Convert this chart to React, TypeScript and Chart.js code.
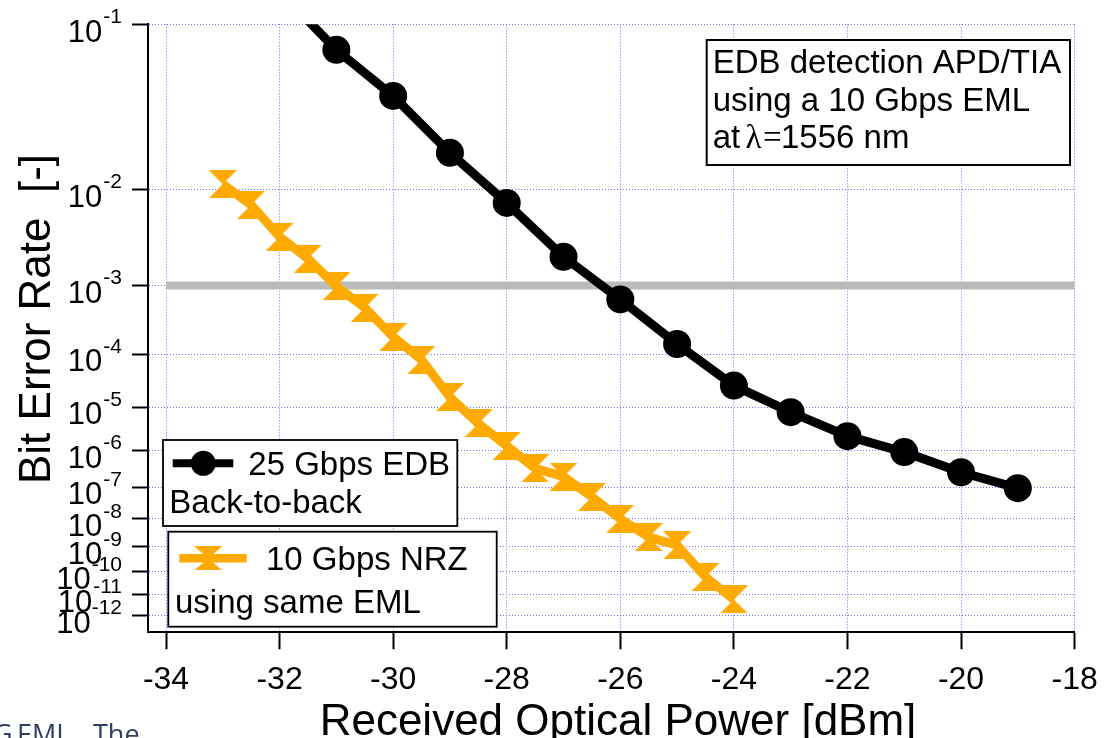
import React, { useEffect, useRef } from 'react';
import { Chart, registerables } from 'chart.js';
Chart.register(...registerables);

// ---------- data ----------
const POWER_EDB = [-32, -31, -30, -29, -28, -27, -26, -25, -24, -23, -22, -21, -20, -19];
const BER_EDB = [1.35e-1, 7.7e-2, 4.45e-2, 1.92e-2, 7.6e-3, 2.2e-3, 6.6e-4, 1.46e-4, 2.7e-5, 7.8e-6, 2.24e-6, 9.1e-7, 2.65e-7, 9.3e-8];

const POWER_NRZ = [-33, -32.5, -32, -31.5, -31, -30.5, -30, -29.5, -29, -28.5, -28, -27.5, -27, -26.5, -26, -25.5, -25, -24.5, -24];
const BER_NRZ = [1.1e-2, 7.3e-3, 3.6e-3, 2.1e-3, 9.8e-4, 5.1e-4, 1.9e-4, 8.0e-5, 1.6e-5, 4.4e-6, 1.3e-6, 3.4e-7, 2.0e-7, 5.1e-8, 1.0e-8, 2.3e-9, 1.15e-9, 6.1e-11, 5.9e-12];

const LIMIT_POWER = [-34, -18];
const LIMIT_BER = [1e-3, 1e-3];

const X_TICKS = [-34, -32, -30, -28, -26, -24, -22, -20, -18];
const X_MIN = -34.317;
const X_MAX = -18;
const Y_TICK_EXPONENTS = [1, 2, 3, 4, 5, 6, 7, 8, 9, 10, 11, 12];
const Y_TOP_EXPONENT = 1;
const Y_BOTTOM_EXPONENT = 12.89;

const LEGEND_EDB = ['25 Gbps EDB', 'Back-to-back'];
const LEGEND_NRZ = ['10 Gbps NRZ', 'using same EML'];
const NOTE_LINES = ['EDB detection APD/TIA', 'using a 10 Gbps EML'];
const X_TITLE = 'Received Optical Power [dBm]';
const Y_TITLE = 'Bit Error Rate  [-]';

// y axis: log10(-log10(BER))
const toAxis = (ber: number) => Math.log10(-Math.log10(ber));

const SANS = '"Liberation Sans", Arial, sans-serif';
const SERIF = '"Liberation Serif", "Times New Roman", serif';
const ORANGE = '#ffaa00';
const GRID = 'rgb(110,110,255)';

function makeHourglass(size: number, color: string) {
  const c = document.createElement('canvas');
  c.width = size;
  c.height = size;
  const g = c.getContext('2d')!;
  g.fillStyle = color;
  g.beginPath();
  g.moveTo(0, 0);
  g.lineTo(size, 0);
  g.lineTo(size / 2, size / 2);
  g.closePath();
  g.moveTo(0, size);
  g.lineTo(size, size);
  g.lineTo(size / 2, size / 2);
  g.closePath();
  g.fill();
  return c;
}

export default function App() {
  const ref = useRef<HTMLCanvasElement | null>(null);

  useEffect(() => {
    if (!ref.current) return;
    const hourglass = makeHourglass(28, ORANGE);

    const decorations = {
      id: 'decorations',
      afterDraw(chart: any) {
        const ctx = chart.ctx as CanvasRenderingContext2D;
        const ys = chart.scales.y;
        ctx.save();
        ctx.fillStyle = '#000';
        ctx.textBaseline = 'alphabetic';

        // y tick labels 10^-n
        Y_TICK_EXPONENTS.forEach((n) => {
          const py = ys.getPixelForValue(Math.log10(n));
          const sup = '-' + n;
          const right = 122;
          ctx.textAlign = 'right';
          ctx.font = `21px ${SANS}`;
          ctx.fillText(sup, right, py - 1.3);
          const w = ctx.measureText(sup).width;
          ctx.font = `31px ${SANS}`;
          ctx.fillText('10', right - w - 1, py + 17.4);
        });

        // axis titles
        ctx.font = `44px ${SANS}`;
        ctx.textAlign = 'center';
        ctx.fillText(X_TITLE, 618, 735);
        ctx.save();
        ctx.translate(50, 319);
        ctx.rotate(-Math.PI / 2);
        ctx.fillText(Y_TITLE, 0, 0);
        ctx.restore();

        // annotation box
        ctx.textAlign = 'left';
        ctx.fillStyle = '#fff';
        ctx.fillRect(706.7, 40, 363.3, 125);
        ctx.strokeStyle = '#000';
        ctx.lineWidth = 2;
        ctx.strokeRect(706.7, 40, 363.3, 125);
        ctx.fillStyle = '#000';
        ctx.font = `33px ${SANS}`;
        ctx.fillText(NOTE_LINES[0], 712.7, 73.3);
        ctx.fillText(NOTE_LINES[1], 712.7, 110.5);
        ctx.fillText('at', 712.7, 148);
        ctx.font = `33px ${SERIF}`;
        ctx.fillText('\u03bb', 745.5, 148);
        ctx.fillText('=', 763, 148);
        ctx.font = `33px ${SANS}`;
        ctx.fillText('1556 nm', 781, 148);

        // legend box 1
        ctx.fillStyle = '#fff';
        ctx.fillRect(163, 440, 294.3, 86);
        ctx.lineWidth = 1.8;
        ctx.strokeStyle = '#000';
        ctx.strokeRect(163, 440, 294.3, 86);
        ctx.lineWidth = 8;
        ctx.beginPath();
        ctx.moveTo(172.7, 463.3);
        ctx.lineTo(233.3, 463.3);
        ctx.stroke();
        ctx.fillStyle = '#000';
        ctx.beginPath();
        ctx.arc(203.3, 463.3, 12.5, 0, Math.PI * 2);
        ctx.fill();
        ctx.font = `33px ${SANS}`;
        ctx.fillText(LEGEND_EDB[0], 248.3, 475);
        ctx.fillText(LEGEND_EDB[1], 169.3, 513.3);

        // legend box 2
        ctx.fillStyle = '#fff';
        ctx.fillRect(168.3, 531.7, 328.4, 95);
        ctx.lineWidth = 1.8;
        ctx.strokeStyle = '#000';
        ctx.strokeRect(168.3, 531.7, 328.4, 95);
        ctx.strokeStyle = ORANGE;
        ctx.lineWidth = 8.5;
        ctx.beginPath();
        ctx.moveTo(179.3, 558.3);
        ctx.lineTo(246.7, 558.3);
        ctx.stroke();
        ctx.drawImage(hourglass, 208.3 - 14, 558.3 - 12, 28, 24);
        ctx.fillStyle = '#000';
        ctx.fillText(LEGEND_NRZ[0], 266, 570);
        ctx.fillText(LEGEND_NRZ[1], 175, 613.3);

        // page text fragment below the figure
        ctx.fillStyle = '#2f3e63';
        ctx.font = `27px "Open Sans", sans-serif`;
        ctx.fillText('G', -7, 744);
        ctx.fillText('EML.', 17, 744);
        ctx.fillText('The', 93, 744);

        ctx.restore();
      },
    };

    const chart = new Chart(ref.current, {
      type: 'line',
      data: {
        datasets: [
          {
            label: '25 Gbps EDB',
            data: POWER_EDB.map((x, i) => ({ x, y: toAxis(BER_EDB[i]) })),
            borderColor: '#000',
            backgroundColor: '#000',
            borderWidth: 9,
            borderJoinStyle: 'round',
            pointRadius: 14,
            pointBackgroundColor: '#000',
            pointBorderColor: '#000',
            pointBorderWidth: 0,
            clip: 0,
            order: 1,
          },
          {
            label: '10 Gbps NRZ',
            data: POWER_NRZ.map((x, i) => ({ x, y: toAxis(BER_NRZ[i]) })),
            borderColor: ORANGE,
            backgroundColor: ORANGE,
            borderWidth: 9,
            borderJoinStyle: 'miter',
            pointStyle: hourglass as any,
            pointRadius: 14,
            clip: 0,
            order: 2,
          },
          {
            label: 'limit',
            data: LIMIT_POWER.map((x, i) => ({ x, y: toAxis(LIMIT_BER[i]) })),
            borderColor: '#bbbbbb',
            borderWidth: 8,
            pointRadius: 0,
            clip: 0,
            order: 3,
          },
        ],
      },
      options: {
        responsive: false,
        animation: false,
        events: [],
        layout: { padding: { top: 24.3, right: 37.4, left: 0, bottom: 0 } },
        plugins: { legend: { display: false }, tooltip: { enabled: false } },
        scales: {
          x: {
            type: 'linear',
            min: X_MIN,
            max: X_MAX,
            afterBuildTicks: (s: any) => {
              s.ticks = X_TICKS.map((v) => ({ value: v }));
            },
            afterFit: (s: any) => {
              s.height = 738 - 632.3;
            },
            grid: {
              color: GRID,
              lineWidth: 1,
              drawTicks: true,
              tickLength: 17,
              tickColor: '#000',
              tickWidth: 2,
              tickBorderDash: [],
            },
            border: { display: true, color: '#000', width: 2, dash: [1, 2] },
            ticks: {
              autoSkip: false,
              maxRotation: 0,
              padding: 12,
              color: '#000',
              font: { family: SANS, size: 32 },
            },
          },
          y: {
            type: 'linear',
            reverse: true,
            min: Math.log10(Y_TOP_EXPONENT),
            max: Math.log10(Y_BOTTOM_EXPONENT),
            afterBuildTicks: (s: any) => {
              s.ticks = Y_TICK_EXPONENTS.map((n) => ({ value: Math.log10(n) }));
            },
            afterFit: (s: any) => {
              s.width = 148;
            },
            grid: {
              color: GRID,
              lineWidth: 1,
              drawTicks: true,
              tickLength: 16,
              tickColor: '#000',
              tickWidth: 2,
              tickBorderDash: [],
            },
            border: { display: true, color: '#000', width: 2, dash: [1, 2] },
            ticks: { display: false },
          },
        },
      },
      plugins: [decorations],
    } as any);

    return () => chart.destroy();
  }, []);

  return (
    <div style={{ position: 'absolute', left: 0, top: 0, width: 1112, height: 738, background: '#fff' }}>
      <canvas ref={ref} width={1112} height={738} style={{ display: 'block' }} />
    </div>
  );
}
